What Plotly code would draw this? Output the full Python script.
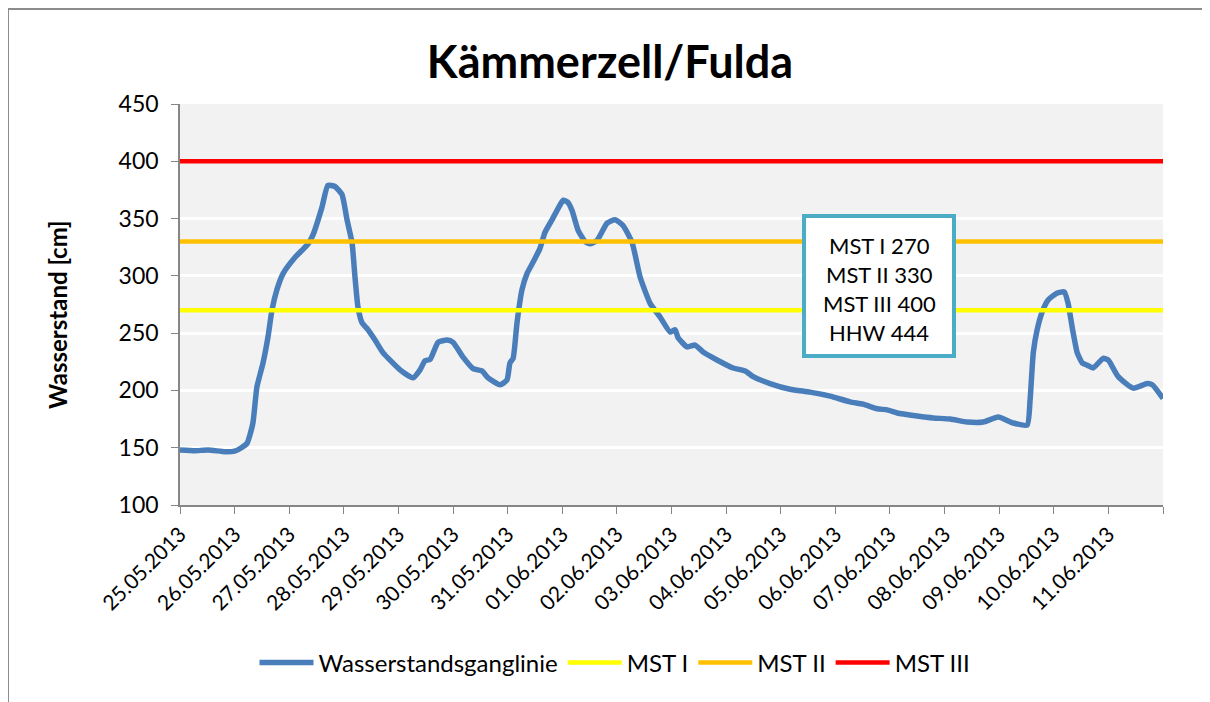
import pandas as pd
import plotly.graph_objects as go

# hours since 25.05.2013 00:00 and water level [cm]
hours = [0, 6.6, 12.3, 19.8, 24, 27, 29.5, 32, 33.8, 36.5, 38.7, 40.4, 42.6, 45.3, 50.5,
         56.3, 58.5, 62.4, 65, 68.1, 71.2, 73.4, 75.6, 76.9, 78.2, 80, 82.2, 85.7, 89.2,
         96.7, 102.4, 105.5, 107.7, 109.9, 113.4, 117.4, 120, 124.4, 128.8, 132.7, 135.4,
         140.7, 143.7, 145, 146.4, 148.1, 150.3, 152.5, 155.2, 158.2, 160.4, 163.5, 166.2,
         168.4, 170.5, 172.3, 174.9, 178, 180.2, 183.3, 187.7, 191.2, 194.7, 198.7, 202.2,
         206.6, 211, 215.4, 217.6, 218.9, 222.9, 226.4, 229.9, 236, 243.1, 248.4, 251.9,
         259.3, 268.1, 276.9, 285.7, 294.5, 300.2, 306.4, 310.8, 315.2, 324, 331, 338.5,
         345.9, 353, 359.6, 366.2, 372.3, 373.6, 375, 376.7, 378.9, 381.5, 385.5, 388.6,
         390.3, 392.1, 394.3, 396.5, 398.7, 401.3, 405.7, 407.9, 412.3, 418.9, 425, 427.3, 432]
levels = [148, 147.4, 148, 146.5, 147, 150, 154, 171, 203, 224, 247, 270, 288, 302, 316,
          328, 336, 360, 379, 378, 371, 349, 329, 299, 273, 259, 254, 244, 233,
          218, 211, 218, 226, 227, 242, 244, 242, 229, 219, 217, 211,
          205, 209, 224, 228, 259, 288, 302, 312, 324, 338, 349, 359,
          366, 364, 357, 340, 330, 328, 331, 346, 349, 344, 329, 299,
          276, 264, 251, 253, 246, 238, 239.6, 233.5, 226.6, 219.6, 217, 212,
          206, 201, 198.5, 195, 190, 188, 184, 183, 180.3, 177.7, 176, 175,
          172.4, 172.4, 176.8, 171.6, 169.8, 192, 233, 253, 268.5, 279, 285, 286,
          276, 255, 233, 224, 222, 219.6, 228, 226.6, 212, 202, 206, 205, 193]

start = pd.Timestamp("2013-05-25")
end = pd.Timestamp("2013-06-12")
times = [start + pd.Timedelta(hours=h) for h in hours]

thresholds = [("MST I", 270, "#FFFF00"), ("MST II", 330, "#FFC000"), ("MST III", 400, "#FF0000")]
box_lines = ["MST I 270", "MST II 330", "MST III 400", "HHW 444"]

tick_dates = pd.date_range(start, end, freq="D")
tick_text = [d.strftime("%d.%m.%Y") for d in tick_dates[:-1]] + [""]

FONT = "Lato"

fig = go.Figure()
fig.add_trace(go.Scatter(x=times, y=levels, mode="lines", name="Wasserstandsganglinie",
                         line=dict(color="#4A7EBB", width=5.5, shape="spline", smoothing=0.5)))
for name, val, col in thresholds:
    fig.add_trace(go.Scatter(x=[start, end], y=[val, val], mode="lines", name=name,
                             line=dict(color=col, width=4.5)))

OFF = 8  # page body margin
W, H = 1210 - OFF, 702 - OFF
L, T = 180 - OFF, 104 - OFF
R, B = W - (1163 - OFF), H - (505 - OFF)
pw, ph = W - L - R, H - T - B

def px(sx):
    return (sx - OFF - L) / pw

def py(sy):
    return (H - B - (sy - OFF)) / ph

fig.update_layout(
    width=W, height=H,
    margin=dict(l=L, r=R, t=T, b=B),
    paper_bgcolor="white", plot_bgcolor="#F2F2F2",
    font=dict(family=FONT, size=20, color="black"),
    title=dict(text="<b>Kämmerzell/Fulda</b>", x=(610 - OFF) / W, xanchor="center",
               y=1 - (62 - OFF) / H, yanchor="middle", font=dict(size=45, family=FONT)),
    showlegend=True,
    legend=dict(orientation="h", x=px(615), xanchor="center", y=py(663), yanchor="middle",
                font=dict(size=24), itemwidth=54, bgcolor="rgba(0,0,0,0)"),
    xaxis=dict(range=[start, end], tickvals=list(tick_dates), ticktext=tick_text,
               tickangle=-45, ticks="outside", ticklen=7, tickcolor="#868686",
               showline=True, linecolor="#868686", linewidth=1.5, showgrid=False,
               zeroline=False, tickfont=dict(size=21)),
    yaxis=dict(range=[100, 450], dtick=50, ticks="outside", ticklen=7, tickcolor="#868686",
               showline=True, linecolor="#868686", linewidth=1.5, gridcolor="white",
               gridwidth=3, zeroline=False, tickfont=dict(size=23), ticklabelstandoff=8),
)

# outer chart frame (top and left edges visible)
fig.add_shape(type="line", xref="paper", yref="paper",
              x0=px(8), x1=px(1300), y0=py(9), y1=py(9),
              line=dict(color="#8C8C8C", width=2), layer="below")
fig.add_shape(type="line", xref="paper", yref="paper",
              x0=px(8), x1=px(8), y0=py(9), y1=py(800),
              line=dict(color="#8C8C8C", width=2), layer="below")

# y axis title
fig.add_annotation(text="<b>Wasserstand [cm]</b>", xref="paper", yref="paper",
                   x=px(57), y=py(315), textangle=-90, showarrow=False,
                   font=dict(size=24), xanchor="center", yanchor="middle")

# info box
fig.add_shape(type="rect", xref="paper", yref="paper",
              x0=px(804), x1=px(954), y0=py(356), y1=py(216),
              line=dict(color="#4BACC6", width=4), fillcolor="white", layer="above")
for i, t in enumerate(box_lines):
    fig.add_annotation(text=t, xref="paper", yref="paper", x=px(879), y=py(245 + 29 * i),
                       showarrow=False, font=dict(size=22), xanchor="center", yanchor="middle")

fig.write_html("out.html")
